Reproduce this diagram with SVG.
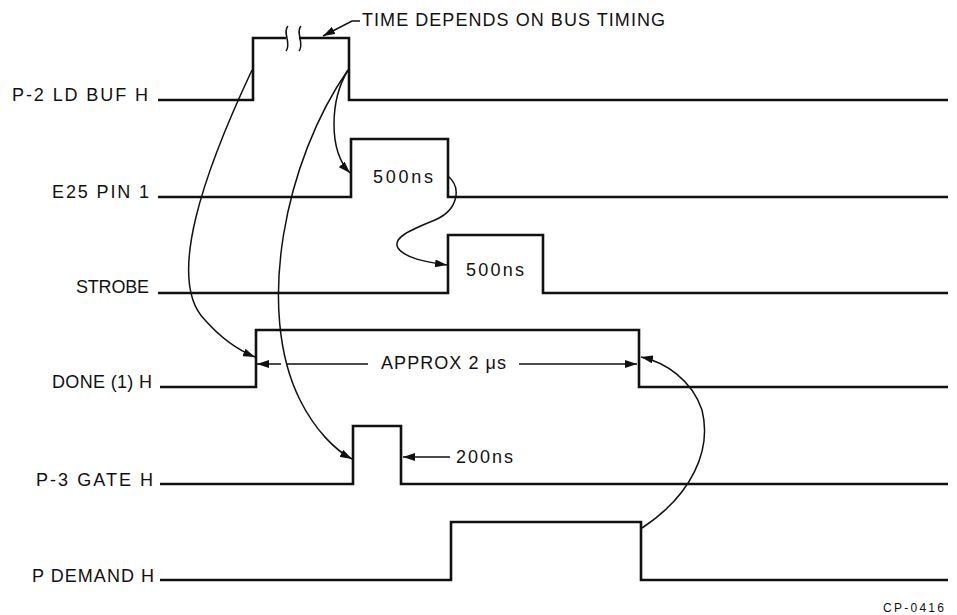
<svg xmlns="http://www.w3.org/2000/svg" width="957" height="615" viewBox="0 0 957 615">
<defs>
<style>
.sig{fill:none;stroke:#111;stroke-width:2.6;stroke-linejoin:miter}
.cur{fill:none;stroke:#111;stroke-width:1.5}
.lbl{font-family:"Liberation Sans",Arial,sans-serif;font-size:18px;fill:#111}
.sm{font-family:"Liberation Sans",Arial,sans-serif;font-size:12px;fill:#111}
</style>
<marker id="ah" viewBox="0 0 12 8" refX="12" refY="4" markerWidth="12" markerHeight="8" markerUnits="userSpaceOnUse" orient="auto">
<path d="M0,0 L12,4 L0,8 Z" fill="#111"/>
</marker>
</defs>
<rect width="957" height="615" fill="#fff"/>
<g id="p2-ld-buf">
<path class="sig" d="M158,100 H253 V38 H286 M299,38 H349 V100 H948"/>
<path class="cur" d="M288,26 C282,32 292,44 286,51 M301,26 C295,32 305,44 299,51"/>
<text class="lbl" x="12" y="101" textLength="136" lengthAdjust="spacing">P-2 LD BUF H</text>
</g>
<g id="e25-pin1">
<path class="sig" d="M158,197 H351 V139 H448 V197 H948"/>
<text class="lbl" x="52" y="198" textLength="97" lengthAdjust="spacing">E25 PIN 1</text>
<text class="lbl" x="373" y="183" textLength="60" lengthAdjust="spacing">500ns</text>
</g>
<g id="strobe">
<path class="sig" d="M158,293 H448 V235 H543 V293 H948"/>
<text class="lbl" x="76" y="293" textLength="73" lengthAdjust="spacing">STROBE</text>
<text class="lbl" x="466" y="276" textLength="58" lengthAdjust="spacing">500ns</text>
</g>
<g id="done">
<path class="sig" d="M160,387 H256 V330 H639 V387 H948"/>
<text class="lbl" x="52" y="388" textLength="100" lengthAdjust="spacing">DONE (1) H</text>
<text class="lbl" x="381" y="369" textLength="125" lengthAdjust="spacing">APPROX 2 μs</text>
</g>
<g id="p3-gate">
<path class="sig" d="M160,484 H353 V426 H401 V484 H948"/>
<text class="lbl" x="36" y="486" textLength="117" lengthAdjust="spacing">P-3 GATE H</text>
<text class="lbl" x="456" y="463" textLength="57" lengthAdjust="spacing">200ns</text>
</g>
<g id="p-demand">
<path class="sig" d="M160,580 H451 V522 H641 V580 H948"/>
<text class="lbl" x="32" y="582" textLength="122" lengthAdjust="spacing">P DEMAND H</text>
</g>
<g id="notes">
<text class="lbl" x="362" y="26" textLength="303" lengthAdjust="spacing">TIME DEPENDS ON BUS TIMING</text>
<text class="sm" x="883" y="612" textLength="61" lengthAdjust="spacing">CP-0416</text>
</g>
<g id="connectors">
<path class="cur" marker-end="url(#ah)" d="M360,21 H352 L323,36"/>
<path class="cur" marker-end="url(#ah)" d="M252,70 C205,170 165,280 205,320 C220,337 238,350 255,357"/>
<path class="cur" marker-end="url(#ah)" d="M348,70 C330,100 328,150 350,173"/>
<path class="cur" marker-end="url(#ah)" d="M348,70 C285,160 255,310 300,400 C315,430 335,450 352,459"/>
<path class="cur" marker-end="url(#ah)" d="M448,176 C462,188 458,210 435,220 C410,230 392,238 398,248 C405,258 425,262 447,265"/>
<path class="cur" marker-end="url(#ah)" d="M642,528 C692,495 712,450 702,410 C692,380 665,362 641,357"/>
<path class="cur" marker-end="url(#ah)" d="M281,364 H257"/>
<path class="cur" d="M287,364 H368"/>
<path class="cur" marker-end="url(#ah)" d="M519,364 H637"/>
<path class="cur" marker-end="url(#ah)" d="M450,457 H403"/>
</g>
</svg>
